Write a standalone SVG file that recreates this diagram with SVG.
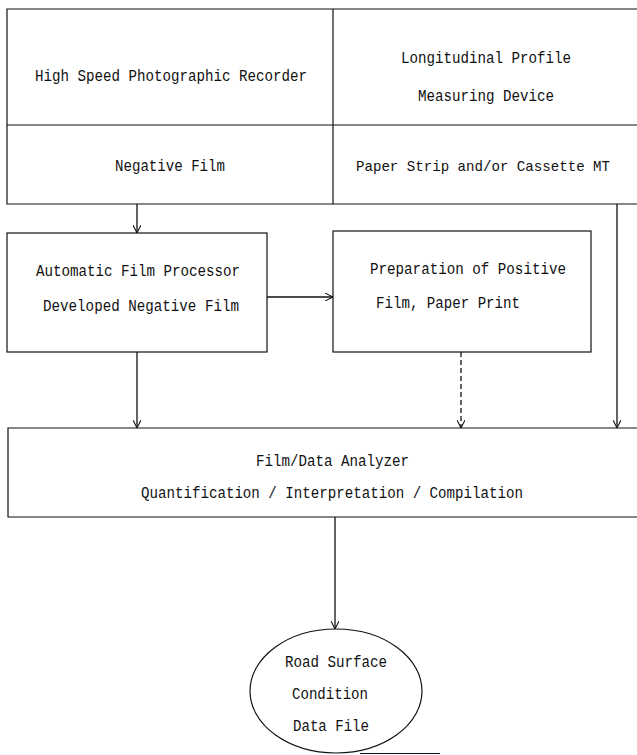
<svg xmlns="http://www.w3.org/2000/svg" width="637" height="755" viewBox="0 0 637 755">
  <style>
    .box { fill: none; stroke: #111; stroke-width: 1.2; }
    .link { fill: none; stroke: #111; stroke-width: 1.3; }
    .dash { stroke-dasharray: 5 3; }
    text { font-family: "Liberation Mono", "DejaVu Sans Mono", monospace; font-size: 16px; fill: #111; }
    .tight { font-size: 15px; }
  </style>
  <defs>
    <marker id="arrow" viewBox="0 0 10 10" refX="10" refY="5" markerWidth="8" markerHeight="8" markerUnits="userSpaceOnUse" orient="auto">
      <path d="M0,0 L10,5 L0,10" fill="none" stroke="#111" stroke-width="1.3"/>
    </marker>
  </defs>
  <rect width="637" height="755" fill="#fff"/>

  <!-- recording equipment block -->
  <g id="recorders">
    <path class="box" d="M637,9 H7 V204 H637 M7,125 H637 M333,9 V204"/>
    <text x="35" y="81" textLength="272" lengthAdjust="spacingAndGlyphs">High Speed Photographic Recorder</text>
    <text x="401" y="63" textLength="170" lengthAdjust="spacingAndGlyphs">Longitudinal Profile</text>
    <text x="418" y="101" textLength="136" lengthAdjust="spacingAndGlyphs">Measuring Device</text>
    <text x="115" y="171" textLength="110" lengthAdjust="spacingAndGlyphs">Negative Film</text>
    <text class="tight" x="356" y="171" textLength="254" lengthAdjust="spacingAndGlyphs">Paper Strip and/or Cassette MT</text>
  </g>

  <g id="processor">
    <rect class="box" x="7" y="233" width="260" height="119"/>
    <text x="36" y="276" textLength="204" lengthAdjust="spacingAndGlyphs">Automatic Film Processor</text>
    <text x="43" y="311" textLength="196" lengthAdjust="spacingAndGlyphs">Developed Negative Film</text>
  </g>

  <g id="positive">
    <rect class="box" x="333" y="231" width="258" height="121"/>
    <text x="370" y="274" textLength="196" lengthAdjust="spacingAndGlyphs">Preparation of Positive</text>
    <text x="376" y="308" textLength="144" lengthAdjust="spacingAndGlyphs">Film, Paper Print</text>
  </g>

  <g id="analyzer">
    <path class="box" d="M637,428 H8 V517 H637"/>
    <text x="256" y="466" textLength="153" lengthAdjust="spacingAndGlyphs">Film/Data Analyzer</text>
    <text x="141" y="498" textLength="382" lengthAdjust="spacingAndGlyphs">Quantification / Interpretation / Compilation</text>
  </g>

  <g id="datafile">
    <ellipse class="box" cx="336" cy="691" rx="86" ry="62"/>
    <line class="box" x1="360" y1="753.5" x2="440" y2="753.5"/>
    <text x="285" y="667" textLength="102" lengthAdjust="spacingAndGlyphs">Road Surface</text>
    <text x="292" y="699" textLength="76" lengthAdjust="spacingAndGlyphs">Condition</text>
    <text x="293" y="731" textLength="76" lengthAdjust="spacingAndGlyphs">Data File</text>
  </g>

  <g id="connectors">
    <line class="link" x1="137" y1="204" x2="137" y2="233" marker-end="url(#arrow)"/>
    <line class="link" x1="267" y1="297" x2="333" y2="297" marker-end="url(#arrow)"/>
    <line class="link" x1="137" y1="352" x2="137" y2="428" marker-end="url(#arrow)"/>
    <line class="link dash" x1="461" y1="352" x2="461" y2="428" marker-end="url(#arrow)"/>
    <line class="link" x1="617" y1="204" x2="617" y2="428" marker-end="url(#arrow)"/>
    <line class="link" x1="335" y1="517" x2="335" y2="629" marker-end="url(#arrow)"/>
  </g>
</svg>
